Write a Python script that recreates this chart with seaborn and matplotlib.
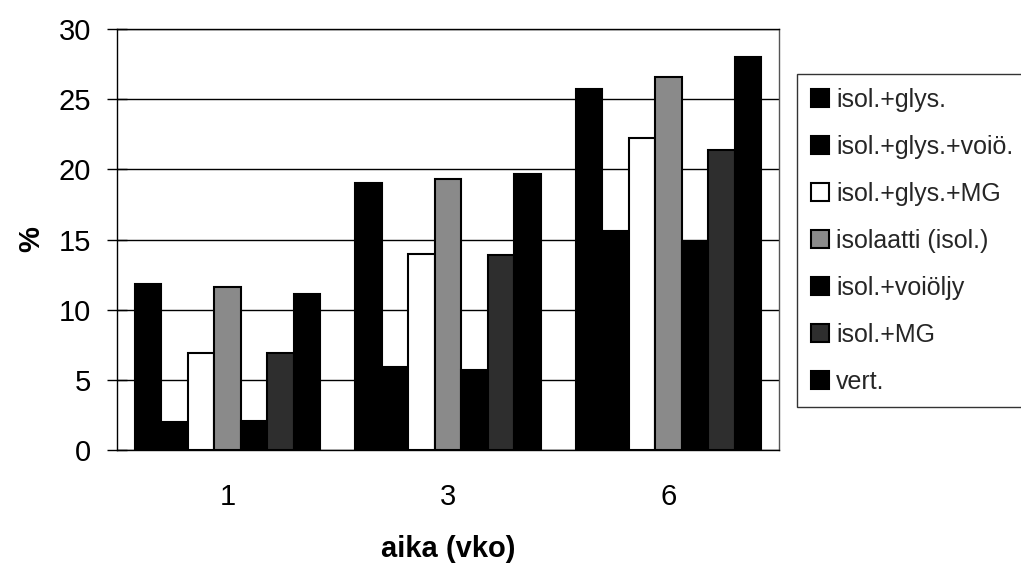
import matplotlib
matplotlib.use("Agg")
import matplotlib.pyplot as plt
import seaborn as sns
import pandas as pd
from matplotlib.ticker import FixedLocator

weeks = ["1", "3", "6"]
series = ["isol.+glys.", "isol.+glys.+voiö.", "isol.+glys.+MG",
          "isolaatti (isol.)", "isol.+voiöljy", "isol.+MG", "vert."]
s1 = [11.8, 19.0, 25.7]
s2 = [2.0, 5.9, 15.6]
s3 = [6.9, 14.0, 22.2]
s4 = [11.6, 19.3, 26.6]
s5 = [2.1, 5.7, 14.8]
s6 = [6.9, 13.9, 21.4]
s7 = [11.1, 19.7, 28.0]
values = [s1, s2, s3, s4, s5, s6, s7]
colors = ["#000000", "#000000", "#ffffff", "#8a8a8a", "#000000", "#2e2e2e", "#000000"]

rows = []
for name, vals in zip(series, values):
    for w, v in zip(weeks, vals):
        rows.append({"aika": w, "sarja": name, "arvo": v})
df = pd.DataFrame(rows)

sns.set_theme(style="white")
plt.rcParams["font.family"] = ["Liberation Sans", "DejaVu Sans"]

fig = plt.figure(figsize=(10.21, 5.63), dpi=100)
ax = fig.add_axes([0.1146, 0.2007, 0.763 - 0.1146, 0.9485 - 0.2007])

sns.barplot(data=df, x="aika", y="arvo", hue="sarja", hue_order=series,
            order=weeks, palette=dict(zip(series, colors)), width=0.84,
            edgecolor="black", linewidth=1.5, saturation=1, ax=ax,
            errorbar=None, zorder=3)

ax.set_ylim(0, 30)
ax.set_xlim(-0.5, 2.5)
ax.set_yticks([0, 5, 10, 15, 20, 25, 30])
ax.yaxis.grid(True, color="black", linewidth=1.0, zorder=0)
ax.set_axisbelow(True)

ax.tick_params(axis="x", which="major", length=0, pad=24, labelsize=21, colors="black")
ax.xaxis.set_minor_locator(FixedLocator([-0.5, 0.5, 1.5, 2.5]))
ax.tick_params(axis="x", which="minor", length=14, direction="inout", width=1, color="black")
ax.tick_params(axis="y", length=15, direction="inout", width=1, labelsize=21, pad=11,
               colors="black", left=True)

for sp in ax.spines.values():
    sp.set_visible(True)
    sp.set_color("black")
    sp.set_linewidth(1.0)
ax.spines["right"].set_color("#555555")

ax.set_xlabel("aika (vko)", fontsize=21, fontweight="bold", labelpad=17, color="black")
ax.set_ylabel("%", fontsize=21, fontweight="bold", labelpad=10, color="black")

h, l = ax.get_legend_handles_labels()
if ax.legend_:
    ax.legend_.remove()
leg = fig.legend(h, l, loc="upper left", bbox_to_anchor=(0.7806, 0.8686),
                 bbox_transform=fig.transFigure, fontsize=18, frameon=True,
                 fancybox=False, shadow=False, edgecolor="black",
                 handlelength=0.72, handleheight=0.72, handletextpad=0.3,
                 labelspacing=0.92, borderpad=0.55, borderaxespad=0)
leg.get_frame().set_linewidth(1.0)

fig.savefig("out.png", dpi=100)
